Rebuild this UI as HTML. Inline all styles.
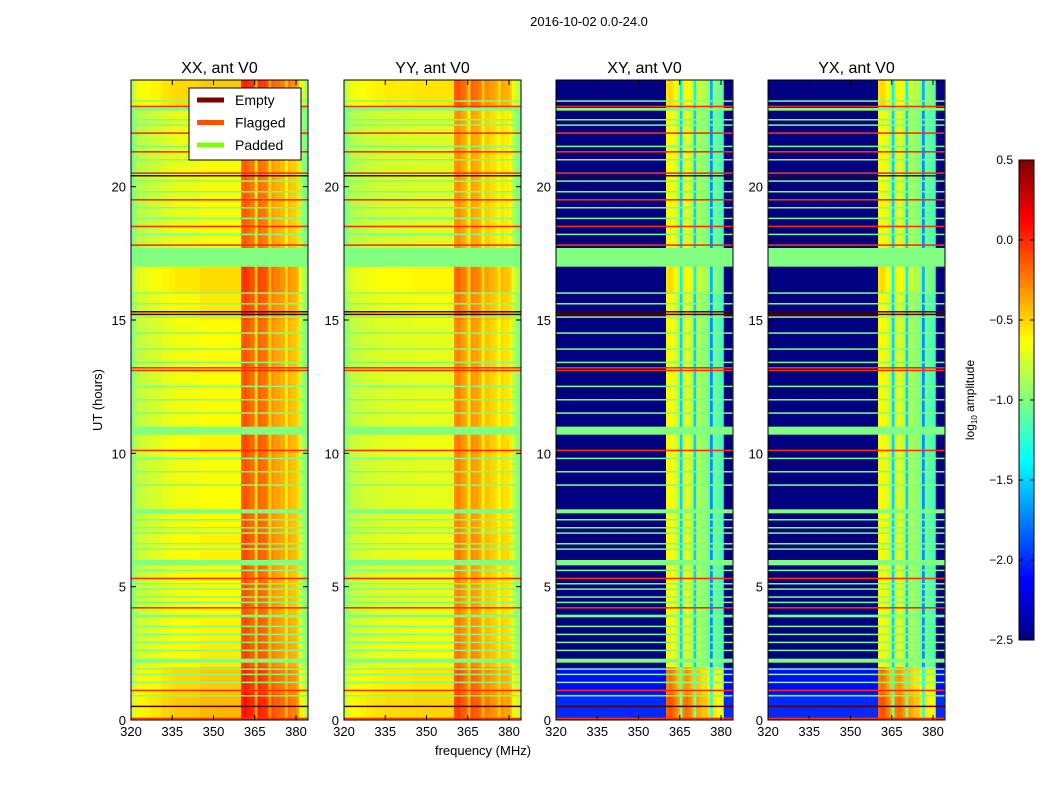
<!DOCTYPE html>
<html><head><meta charset="utf-8"><style>
body{margin:0;background:#fff;width:1050px;height:800px;overflow:hidden}
svg text{font-family:"Liberation Sans","DejaVu Sans",sans-serif;fill:#000}
</style></head><body>
<svg id="fig" width="1050" height="800" xmlns="http://www.w3.org/2000/svg">
<text x="589" y="26" font-size="13" text-anchor="middle">2016-10-02 0.0-24.0</text>
<text transform="translate(102,400) rotate(-90)" font-size="13" text-anchor="middle">UT (hours)</text>
<text x="483" y="755" font-size="13" text-anchor="middle">frequency (MHz)</text>
<g id="panels"></g>
<g id="cbar"></g>
</svg>
<script>
// ---- data ----
const freqStart = 320; // MHz, 1 MHz bins
const xxProfile = [-1.0,-0.9,
 -0.8,-0.8,-0.8,-0.78,-0.78,-0.75,-0.75,-0.75,-0.75,
 -0.7,-0.7,-0.7,-0.68,-0.68,-0.66,-0.66,-0.66,-0.66,-0.66,-0.66,-0.66,-0.66,-0.66,
 -0.62,-0.62,-0.62,-0.62,-0.62,-0.62,-0.62,-0.62,-0.62,-0.62,-0.62,-0.62,-0.62,-0.62,-0.62,
 -0.15,-0.1,-0.15,-0.2,-0.2,-0.55,
 -0.15,-0.2,-0.2,-0.25,-0.5,
 -0.3,-0.35,-0.35,-0.4,-0.4,-0.6,
 -0.4,-0.45,-0.45,-0.5,-0.8,-0.9,-1.0];
const yyProfile = [-1.0,-0.9,
 -0.82,-0.82,-0.8,-0.8,-0.78,-0.78,-0.76,-0.76,-0.76,
 -0.74,-0.74,-0.74,-0.74,-0.72,-0.72,-0.72,-0.72,-0.72,-0.72,-0.72,-0.72,-0.72,-0.72,
 -0.7,-0.7,-0.7,-0.7,-0.7,-0.7,-0.7,-0.7,-0.7,-0.7,-0.7,-0.7,-0.7,-0.7,-0.7,
 -0.3,-0.25,-0.3,-0.35,-0.4,-0.6,
 -0.3,-0.35,-0.35,-0.4,-0.6,
 -0.45,-0.45,-0.5,-0.5,-0.55,-0.65,
 -0.5,-0.55,-0.55,-0.6,-0.8,-0.9,-1.0];
const xyProfile = [-2.5,-2.5,-2.5,-2.5,-2.5,-2.5,-2.5,-2.5,-2.5,-2.5,
 -2.5,-2.5,-2.5,-2.5,-2.5,-2.5,-2.5,-2.5,-2.5,-2.5,
 -2.5,-2.5,-2.5,-2.5,-2.5,-2.5,-2.5,-2.5,-2.5,-2.5,
 -2.5,-2.5,-2.5,-2.5,-2.5,-2.5,-2.5,-2.5,-2.5,-2.5,
 -0.65,-0.6,-0.65,-0.75,-0.85,-1.5,
 -0.75,-0.7,-0.75,-0.85,-1.5,
 -0.85,-0.9,-0.95,-0.95,-1.05,-1.7,
 -1.05,-1.1,-1.15,-1.2,-2.5,-2.5,-2.5];
const yxProfile = xyProfile;
const hourOffsetXX = [0.2,0.15,0.05,0.03,0,0,0.03,0,0,0,0.03,0,0,0,0,0.05,0.1,-0.03,-0.03,-0.03,-0.03,-0.03,-0.03,0.15];
const hourOffsetXY = [0.5,0.4,0,0,0,0,0,0,0,0,0,0,0,0,0,0,0.1,0,0,0,0,0,0,0.1];
const paddedBands = [[17.0,17.7],[10.7,11.0],[7.75,7.9],[5.8,6.0],[3.85,3.95],[2.15,2.3],[22.85,22.95]];
const paddedLines = [23.2,22.5,22.3,21.5,21.0,20.2,19.8,19.2,18.8,18.2,16.0,15.6,15.1,14.5,13.9,13.4,12.5,12.0,11.5,9.8,9.3,8.8,7.5,7.2,7.0,6.6,6.4,5.6,5.1,4.9,4.6,4.4,3.5,3.2,2.9,2.6,1.9,1.7,1.4,0.9];
const flaggedLines = [23.0,22.0,21.3,20.5,19.5,18.5,17.8,13.2,13.1,10.1,5.3,4.2,1.1,0.05];
const emptyLines = [20.4,15.3,15.2,0.5];
const cbarTicks = [0.5,0.0,-0.5,-1.0,-1.5,-2.0,-2.5];
const xTicks = [320,335,350,365,380];
const yTicks = [0,5,10,15,20];
const panelTitles = ["XX, ant V0","YY, ant V0","XY, ant V0","YX, ant V0"];
const panelLefts = [131,344,556,768];
const panelProfiles = [xxProfile,yyProfile,xyProfile,yxProfile];
const panelOffsets = [hourOffsetXX,hourOffsetXX,hourOffsetXY,hourOffsetXY];

// ---- scales ----
const TOP=80,BOT=720,W=177,VMIN=-2.5,VMAX=0.5;
const y=h=>BOT-h*(BOT-TOP)/24;
const xs=(L,f)=>L+(f-320)*2.75;
function jet(v){let t=(v-VMIN)/(VMAX-VMIN);t=Math.max(0,Math.min(1,t));
 const c=x=>Math.round(255*Math.max(0,Math.min(1,x)));
 return `rgb(${c(1.5-Math.abs(4*t-3))},${c(1.5-Math.abs(4*t-2))},${c(1.5-Math.abs(4*t-1))})`;}
const NS="http://www.w3.org/2000/svg";
function el(tag,attrs,parent){const e=document.createElementNS(NS,tag);for(const k in attrs)e.setAttribute(k,attrs[k]);parent.appendChild(e);return e;}
const panels=document.getElementById('panels');
panelLefts.forEach((L,p)=>{
 const g=el('g',{},panels);
 
 
 const cp=el('clipPath',{id:'cp'+p},g);
 el('rect',{x:L,y:TOP,width:W,height:BOT-TOP},cp);
 const hm=el('g',{'clip-path':`url(#cp${p})`},g);
 
 
 const prof=panelProfiles[p],off=panelOffsets[p];
 for(let h=0;h<24;h++){
  for(let c=0;c<prof.length;c++){
   const f=freqStart+c;const x0=xs(L,f),x1=xs(L,f+1);
   const r=el('rect',{x:x0,y:y(h+1),width:x1-x0+0.4,height:y(h)-y(h+1)+0.4,fill:jet(prof[c]+(prof[c]>-2.4||h<2?off[h]:0))},hm);
   
   
  }
 }
 paddedBands.forEach(b=>{const r=el('rect',{x:L,y:y(b[1]),width:W,height:y(b[0])-y(b[1]),fill:'#80ff80'},hm);
  });
 paddedLines.forEach(h=>{const r=el('rect',{x:L,y:y(h)-1,width:W,height:1.5,fill:'#80ff80'},hm);
  });
 flaggedLines.forEach(h=>{const r=el('rect',{x:L,y:y(h)-1,width:W,height:1.6,fill:'#ff3000'},hm);
  });
 emptyLines.forEach(h=>{const r=el('rect',{x:L,y:y(h)-1,width:W,height:1.5,fill:'#500000'},hm);
  });
 const fr=el('rect',{x:L,y:TOP,width:W,height:BOT-TOP,fill:'none',stroke:'#000','stroke-width':1},g);
 
 const t=el('text',{x:L+W/2,y:TOP-7,'font-size':16,'text-anchor':'middle'},g);t.textContent=panelTitles[p];
 
 xTicks.forEach(f=>{const X=xs(L,f);
  el('line',{x1:X,x2:X,y1:BOT,y2:BOT-5,stroke:'#000'},g);el('line',{x1:X,x2:X,y1:TOP,y2:TOP+5,stroke:'#000'},g);
  const tt=el('text',{x:X,y:BOT+16,'font-size':13,'text-anchor':'middle'},g);tt.textContent=f;
  });
 yTicks.forEach(h=>{const Y=y(h);
  el('line',{x1:L,x2:L+5,y1:Y,y2:Y,stroke:'#000'},g);el('line',{x1:L+W,x2:L+W-5,y1:Y,y2:Y,stroke:'#000'},g);
  const tt=el('text',{x:L-5,y:Y+5,'font-size':13,'text-anchor':'end'},g);tt.textContent=h;
  });
});
// legend
const lg=el('g',{},panels);


el('rect',{x:189,y:88,width:112,height:72,fill:'#fff',stroke:'#000'},lg);
[['Empty','#800000'],['Flagged','#ff5000'],['Padded','#80ff00']].forEach((e,i)=>{
 const yy=100+i*22.5;
 const ln=el('line',{x1:197,x2:224,y1:yy,y2:yy,stroke:e[1],'stroke-width':5},lg);
 
 const t=el('text',{x:235,y:yy+5,'font-size':14},lg);t.textContent=e[0];
 
});
// colorbar
const cb=document.getElementById('cbar');
const CT=160,CB=640,CL=1019,CW=15;
const cy=v=>CB-(v-VMIN)/(VMAX-VMIN)*(CB-CT);
for(let i=0;i<120;i++){const v0=VMIN+i*(VMAX-VMIN)/120,v1=VMIN+(i+1)*(VMAX-VMIN)/120;
 el('rect',{x:CL,y:cy(v1),width:CW,height:cy(v0)-cy(v1)+0.5,fill:jet((v0+v1)/2)},cb);}
el('rect',{x:CL,y:CT,width:CW,height:CB-CT,fill:'none',stroke:'#000'},cb);
cbarTicks.forEach(v=>{const Y=cy(v);
 el('line',{x1:CL,x2:CL+4,y1:Y,y2:Y,stroke:'#000'},cb);el('line',{x1:CL+CW,x2:CL+CW-4,y1:Y,y2:Y,stroke:'#000'},cb);
 const t=el('text',{x:CL-6,y:Y+4,'font-size':12,'text-anchor':'end'},cb);t.textContent=v.toFixed(1).replace('-','\u2212');
 });
const cl=el('text',{transform:'translate(974,400) rotate(-90)','font-size':12,'text-anchor':'middle'},cb);
cl.innerHTML='log<tspan font-size="8" dy="3">10</tspan><tspan dy="-3"> amplitude</tspan>';


</script>
</body></html>
